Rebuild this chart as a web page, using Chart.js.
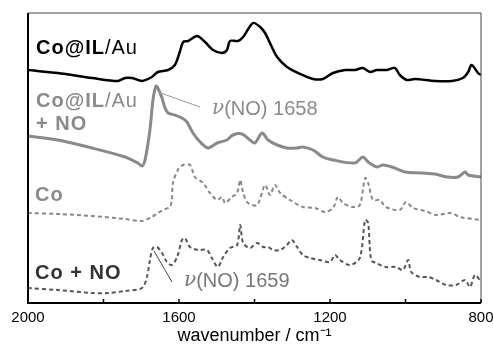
<!DOCTYPE html>
<html>
<head>
<meta charset="utf-8">
<script src="https://cdn.jsdelivr.net/npm/chart.js@4"></script>
<style>
  html, body { margin: 0; padding: 0; background: #fff; }
  #wrap { width: 493px; height: 347px; }
</style>
</head>
<body>
<div id="wrap"><canvas id="ir"></canvas></div>
<script>
// Spectra, wavenumber (cm-1) and offset intensity (arb. units)
const coilAuWn = [2000, 1921, 1830, 1762, 1743, 1724, 1698, 1672, 1656, 1629, 1611, 1598, 1589, 1576, 1552, 1531, 1510, 1486, 1473, 1465, 1444, 1430, 1404, 1385, 1372, 1359, 1340, 1314, 1279, 1245, 1219, 1192, 1160, 1134, 1113, 1094, 1076, 1049, 1028, 1015, 996, 975, 922, 877, 848, 834, 826, 819, 808, 800];
const coilAuY  = [233, 230, 225, 222, 225, 225, 222, 226, 231, 233, 238, 251, 261, 262, 267, 261, 253, 250, 253, 262, 262, 266, 280, 276, 270, 260, 246, 236, 229, 224, 224, 230, 233, 233, 235, 231, 233, 233, 235, 228, 223, 224, 222, 222, 225, 231, 238, 236, 230, 228];

const coilAuNoWn = [2000, 1921, 1830, 1743, 1709, 1698, 1690, 1677, 1669, 1661, 1656, 1645, 1637, 1629, 1611, 1592, 1579, 1563, 1544, 1523, 1499, 1473, 1457, 1433, 1412, 1399, 1380, 1364, 1340, 1314, 1287, 1272, 1245, 1219, 1192, 1134, 1113, 1099, 1076, 1060, 1036, 1001, 956, 922, 890, 861, 842, 834, 800];
const coilAuNoY  = [167, 163, 155, 146, 140, 137, 143, 173, 203, 217, 215, 205, 195, 190, 188, 185, 181, 170, 161, 155, 160, 163, 168, 169, 163, 160, 170, 163, 158, 155, 155, 156, 153, 146, 143, 140, 146, 141, 136, 138, 136, 131, 130, 129, 126, 126, 131, 128, 126];

const coWn = [2000, 1921, 1830, 1743, 1698, 1672, 1656, 1637, 1624, 1619, 1616, 1603, 1589, 1571, 1558, 1536, 1518, 1499, 1486, 1478, 1460, 1446, 1438, 1430, 1417, 1393, 1372, 1359, 1346, 1332, 1306, 1272, 1240, 1213, 1192, 1179, 1166, 1139, 1121, 1107, 1099, 1086, 1068, 1052, 1015, 999, 980, 948, 919, 879, 856, 800];
const coY  = [90, 89, 87, 84, 82, 86, 90, 94, 96, 103, 120, 133, 138, 138, 126, 120, 110, 103, 106, 100, 106, 110, 123, 110, 100, 98, 118, 108, 118, 110, 103, 96, 95, 91, 95, 106, 100, 96, 98, 125, 120, 103, 103, 96, 93, 101, 95, 92, 88, 90, 86, 83];

const coNoWn = [2000, 1921, 1830, 1788, 1743, 1698, 1685, 1677, 1669, 1658, 1645, 1632, 1619, 1605, 1592, 1584, 1571, 1550, 1526, 1513, 1497, 1483, 1465, 1446, 1438, 1430, 1412, 1393, 1377, 1364, 1351, 1332, 1314, 1301, 1287, 1272, 1253, 1227, 1200, 1187, 1174, 1147, 1121, 1107, 1099, 1091, 1078, 1052, 1025, 1007, 993, 985, 962, 940, 919, 893, 866, 842, 829, 816, 800];
const coNoY  = [15, 13, 10, 10, 12, 15, 26, 43, 55, 56, 50, 41, 38, 46, 63, 65, 56, 53, 53, 45, 36, 46, 55, 58, 78, 60, 55, 60, 56, 56, 53, 53, 58, 63, 56, 48, 45, 43, 41, 48, 43, 38, 45, 83, 80, 43, 40, 36, 36, 33, 43, 31, 26, 26, 23, 18, 18, 23, 16, 28, 21];

const xTicks = [2000, 1600, 1200, 800];

function pairs(xs, ys) {
    return xs.map((x, i) => ({ x: x, y: ys[i] }));
}

// frame, inside ticks and text labels
const decorPlugin = {
    id: 'decor',
    afterDraw(chart) {
        const ctx = chart.ctx;
        const a = chart.chartArea;
        const xs = chart.scales.x;
        ctx.save();

        ctx.strokeStyle = '#444';
        ctx.lineWidth = 1;
        ctx.beginPath();
        ctx.moveTo(a.left, a.top);
        ctx.lineTo(a.right, a.top);
        ctx.lineTo(a.right, a.bottom);
        ctx.stroke();

        ctx.strokeStyle = '#000';
        ctx.lineWidth = 2;
        ctx.beginPath();
        ctx.moveTo(a.left, a.top);
        ctx.lineTo(a.left, a.bottom);
        ctx.lineTo(a.right, a.bottom);
        ctx.stroke();

        ctx.lineWidth = 1.5;
        for (let wn = 800; wn <= 2000; wn += 200) {
            const px = xs.getPixelForValue(wn);
            ctx.beginPath();
            ctx.moveTo(px, a.bottom);
            ctx.lineTo(px, a.bottom - 4);
            ctx.stroke();
        }

        // leader lines to the NO bands
        ctx.lineWidth = 1;
        ctx.strokeStyle = '#999';
        ctx.beginPath();
        ctx.moveTo(158, 92);
        ctx.lineTo(200, 107);
        ctx.stroke();
        ctx.strokeStyle = '#444';
        ctx.beginPath();
        ctx.moveTo(154, 251);
        ctx.lineTo(172, 282);
        ctx.stroke();

        ctx.textBaseline = 'middle';
        ctx.letterSpacing = '1px';
        function parts(list, x, y, color) {
            ctx.fillStyle = color;
            list.forEach(p => {
                ctx.font = (p[1] ? 'bold ' : '') + '20px "Liberation Sans", Arial, sans-serif';
                ctx.fillText(p[0], x, y);
                x += ctx.measureText(p[0]).width;
            });
        }
        parts([['Co@IL', true], ['/Au', false]], 36, 48, '#000');
        parts([['Co@IL', true], ['/Au', false]], 36, 101, '#8a8a8a');
        parts([['+ NO', true]], 36, 124, '#8a8a8a');
        parts([['Co', true]], 35, 195, '#8a8a8a');
        parts([['Co + NO', true]], 35, 273, '#333');

        ctx.letterSpacing = '0px';
        function nu(label, x, y, color) {
            ctx.fillStyle = color;
            ctx.font = 'italic 20px "DejaVu Serif", serif';
            ctx.fillText('\u03bd', x, y);
            x += ctx.measureText('\u03bd').width;
            ctx.font = '20px "Liberation Sans", Arial, sans-serif';
            ctx.fillText(label, x, y);
        }
        nu('(NO) 1658', 212, 109, '#8a8a8a');
        nu('(NO) 1659', 184, 281, '#777');
        ctx.restore();
    }
};

new Chart(document.getElementById('ir'), {
    type: 'line',
    data: {
        datasets: [
            { label: 'Co@IL/Au', data: pairs(coilAuWn, coilAuY), borderColor: '#000', borderWidth: 2.5 },
            { label: 'Co@IL/Au + NO', data: pairs(coilAuNoWn, coilAuNoY), borderColor: '#8a8a8a', borderWidth: 3 },
            { label: 'Co', data: pairs(coWn, coY), borderColor: '#888', borderWidth: 2, borderDash: [4, 3] },
            { label: 'Co + NO', data: pairs(coNoWn, coNoY), borderColor: '#555', borderWidth: 2, borderDash: [4, 3] }
        ]
    },
    options: {
        responsive: true,
        maintainAspectRatio: false,
        animation: false,
        events: [],
        elements: { point: { radius: 0 }, line: { tension: 0.3 } },
        layout: { padding: { left: 28, right: 12, top: 13, bottom: 0 } },
        plugins: { legend: { display: false }, tooltip: { enabled: false } },
        scales: {
            x: {
                type: 'linear',
                reverse: true,
                min: 800,
                max: 2000,
                afterFit: s => { s.height = 44; s.paddingLeft = 0; s.paddingRight = 0; },
                afterBuildTicks: s => { s.ticks = xTicks.map(v => ({ value: v })); },
                grid: { display: false, drawTicks: false },
                border: { display: false },
                ticks: {
                    color: '#000',
                    padding: 6,
                    maxRotation: 0,
                    autoSkip: false,
                    font: { family: '"Liberation Sans", Arial, sans-serif', size: 15 },
                    callback: v => String(v)
                },
                title: {
                    display: true,
                    text: 'wavenumber / cm\u207b\u00b9',
                    color: '#000',
                    padding: 0,
                    font: { family: '"Liberation Sans", Arial, sans-serif', size: 18 }
                }
            },
            y: { display: false, min: 0, max: 290 }
        }
    },
    plugins: [decorPlugin]
});
</script>
</body>
</html>
